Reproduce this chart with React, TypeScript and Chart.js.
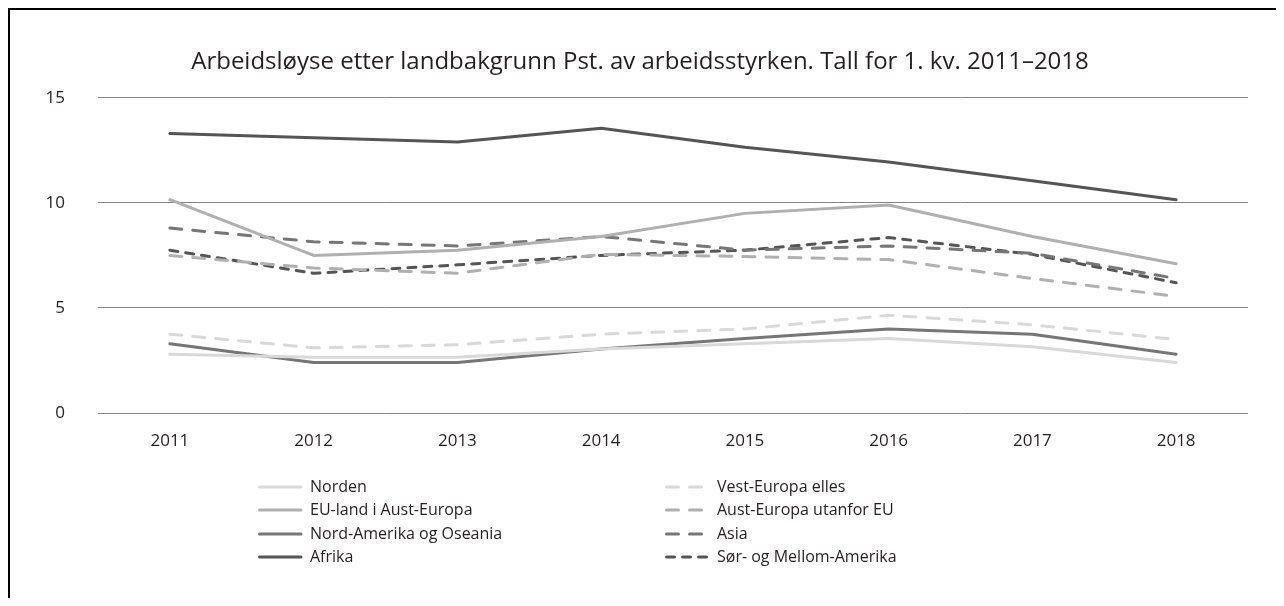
import React, { useEffect, useRef } from "react";
import { Chart, registerables } from "chart.js";

Chart.register(...registerables);

const titleText = "Arbeidsløyse etter landbakgrunn Pst. av arbeidsstyrken. Tall for 1. kv. 2011–2018";
const years = ["2011", "2012", "2013", "2014", "2015", "2016", "2017", "2018"];
const yTicks = [0, 5, 10, 15];

const norden = [2.8, 2.65, 2.65, 3.05, 3.3, 3.55, 3.15, 2.4];
const vestEuropa = [3.75, 3.1, 3.25, 3.75, 4.0, 4.65, 4.2, 3.5];
const euLand = [10.15, 7.5, 7.75, 8.4, 9.5, 9.9, 8.4, 7.1];
const austEuropa = [7.5, 6.9, 6.65, 7.55, 7.45, 7.3, 6.4, 5.55];
const nordAmerika = [3.3, 2.4, 2.4, 3.05, 3.55, 4.0, 3.75, 2.8];
const asia = [8.8, 8.15, 7.95, 8.4, 7.75, 7.95, 7.6, 6.4];
const afrika = [13.3, 13.1, 12.9, 13.55, 12.65, 11.95, 11.05, 10.15];
const sorAmerika = [7.75, 6.65, 7.05, 7.5, 7.75, 8.35, 7.55, 6.2];

const seriesNames = [
  "Norden",
  "EU-land i Aust-Europa",
  "Nord-Amerika og Oseania",
  "Afrika",
  "Vest-Europa elles",
  "Aust-Europa utanfor EU",
  "Asia",
  "Sør- og Mellom-Amerika",
];
const seriesValues = [norden, euLand, nordAmerika, afrika, vestEuropa, austEuropa, asia, sorAmerika];
const seriesColors = ["#d9d9d9", "#b0b0b0", "#767676", "#555555", "#d9d9d9", "#b0b0b0", "#767676", "#555555"];
const seriesDashes: number[][] = [[], [], [], [], [12, 11], [12, 11], [12, 11], [8, 8]];

const FONT = "'Open Sans', sans-serif";
const TEXT = "#231f20";

const legendPlugin = {
  id: "twoColLegend",
  afterDraw(chart: any) {
    const ctx = chart.ctx;
    ctx.save();
    const colX = [248, 655];
    const textOff = 52;
    const rowY = [477, 500, 524, 547];
    chart.data.datasets.forEach((ds: any, i: number) => {
      const col = i < 4 ? 0 : 1;
      const row = i % 4;
      const x = colX[col];
      const y = rowY[row];
      ctx.beginPath();
      ctx.lineWidth = 3;
      ctx.lineCap = "round";
      ctx.strokeStyle = ds.borderColor;
      ctx.setLineDash(ds.borderDash || []);
      ctx.moveTo(x + 1.5, y);
      ctx.lineTo(x + 43, y);
      ctx.stroke();
      ctx.setLineDash([]);
      ctx.fillStyle = TEXT;
      ctx.font = "16px " + FONT;
      ctx.textBaseline = "middle";
      ctx.textAlign = "left";
      ctx.fillText(ds.label, x + textOff, y);
    });
    ctx.restore();
  },
};

export default function App() {
  const ref = useRef<HTMLCanvasElement>(null);
  useEffect(() => {
    if (!ref.current) return;
    const chart = new Chart(ref.current, {
      type: "line",
      data: {
        labels: years,
        datasets: seriesNames.map((name, i) => ({
          label: name,
          data: seriesValues[i],
          borderColor: seriesColors[i],
          backgroundColor: seriesColors[i],
          borderDash: seriesDashes[i],
          borderWidth: 3,
          borderCapStyle: "round",
          borderJoinStyle: "round",
          pointRadius: 0,
          tension: 0,
          fill: false,
        })),
      },
      options: {
        animation: false,
        responsive: false,
        layout: { padding: { left: 22, right: 36, top: 0, bottom: 145 } },
        plugins: {
          legend: { display: false },
          tooltip: { enabled: false },
          title: {
            display: true,
            text: titleText,
            color: TEXT,
            font: { family: FONT, size: 24, weight: "normal" },
            padding: { top: 38, bottom: 21 },
          },
        },
        scales: {
          x: {
            offset: true,
            grid: { display: false, drawTicks: false },
            border: { display: false },
            ticks: { color: TEXT, font: { family: FONT, size: 17 }, padding: 18, maxRotation: 0 },
            afterFit: (s: any) => {
              s.height = 40;
            },
          },
          y: {
            min: 0,
            max: 15,
            afterBuildTicks: (s: any) => {
              s.ticks = yTicks.map((v) => ({ value: v }));
            },
            grid: { color: "#858585", lineWidth: 1, drawTicks: false },
            border: { display: false },
            ticks: { color: TEXT, font: { family: FONT, size: 17 }, padding: 33 },
            afterFit: (s: any) => {
              s.width = 66;
            },
          },
        },
      },
      plugins: [legendPlugin],
    });
    return () => chart.destroy();
  }, []);
  return (
    <div
      style={{
        boxSizing: "border-box",
        width: 1276,
        height: 590,
        borderTop: "2px solid #000",
        borderLeft: "2px solid #000",
        overflow: "hidden",
      }}
    >
      <canvas ref={ref} width={1274} height={588} style={{ display: "block", width: 1274, height: 588 }} />
    </div>
  );
}
